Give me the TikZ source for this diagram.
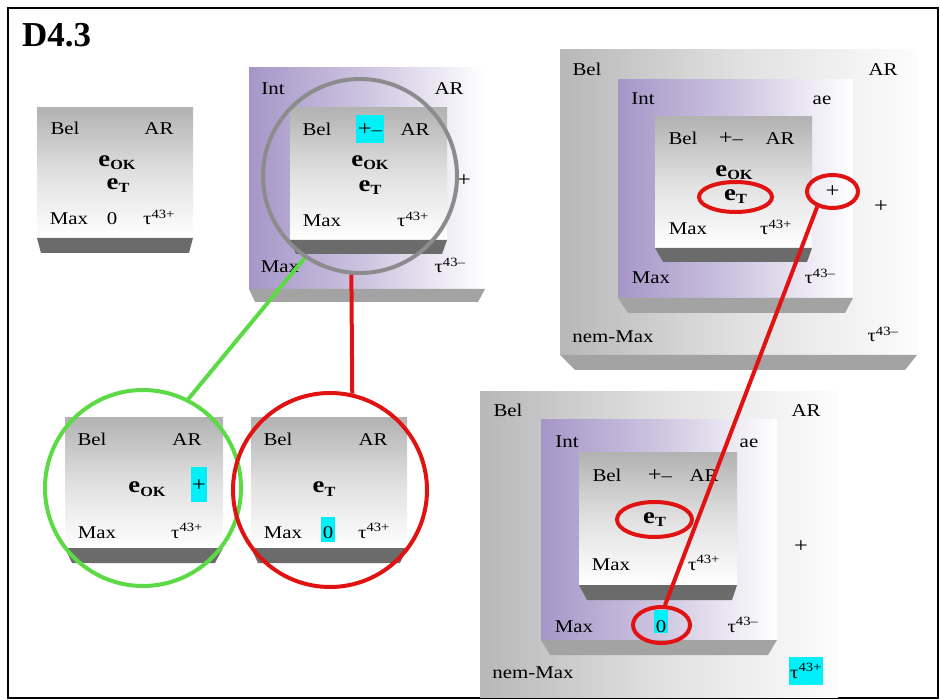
\documentclass[tikz,border=0pt]{standalone}
\usepackage{fontspec}
\setmainfont{Liberation Serif}[FakeStretch=1.16]
\newfontfamily\titlefont{Liberation Serif}
\usetikzlibrary{shapes.geometric}

\definecolor{intpurple}{RGB}{166,150,200}
\definecolor{ringred}{RGB}{225,18,18}
\definecolor{ringgreen}{RGB}{92,218,70}
\definecolor{hlcyan}{RGB}{0,240,250}

\newcommand\esub[1]{\textbf{\fontsize{23}{23}\selectfont e\raisebox{-3pt}{\fontsize{14}{14}\selectfont #1}}}
\newcommand\tauq[1]{τ\textsuperscript{43#1}}
\newcommand\bigplus{{\fontsize{21}{21}\selectfont +}}

\begin{document}
\begin{tikzpicture}[x=1pt,y=-1pt,
  lbl/.style={anchor=base,inner sep=0pt,font=\fontsize{18}{20}\selectfont},
  hlite/.style={fill=hlcyan,inner xsep=1.5pt},
  graybox/.style={top color=black!30,bottom color=white,middle color=black!12},
  intbox/.style={left color=intpurple,right color=white,middle color=intpurple!55},
  outerbox/.style={left color=black!28,right color=black!1,middle color=black!12},
  slabdark/.style={fill=black!58},
  slablight/.style={fill=black!36},
  ring/.style={draw=ringred,line width=4pt,ellipse,inner sep=0pt,font=\fontsize{18}{20}\selectfont},
  bigring/.style={circle,line width=4pt,inner sep=0pt},
  link/.style={line width=4pt}]
\useasboundingbox (0,0) rectangle (940,700);
\draw[line width=1.2pt] (8,8) rectangle (938,698);
\node[anchor=base west,inner sep=0pt,font=\titlefont\bfseries\fontsize{35}{35}\selectfont] (title) at (22,47) {D4.3};

\shade[graybox] (37,108) rectangle (193,238);
\fill[slabdark] (37,238) -- (193,238) -- (189,253) -- (41,253) -- cycle;

\shade[intbox] (249,68) rectangle (485,289);
\fill[slablight] (249,289) -- (485,289) -- (478,302) -- (255,302) -- cycle;
\shade[graybox] (290,108) rectangle (447,240);
\fill[slabdark] (290,240) -- (447,240) -- (442,254) -- (296,254) -- cycle;

\shade[graybox] (65,418) rectangle (223,548);
\fill[slabdark] (65,548) -- (223,548) -- (215,563) -- (72,563) -- cycle;
\shade[graybox] (251,418) rectangle (407,548);
\fill[slabdark] (251,548) -- (407,548) -- (400,563) -- (258,563) -- cycle;

\shade[outerbox] (560,50) rectangle (917,355);
\fill[slablight] (560,355) -- (917,355) -- (905,370) -- (575,370) -- cycle;
\shade[intbox] (618,80) rectangle (853,298);
\fill[slablight] (618,298) -- (853,298) -- (845,313) -- (628,313) -- cycle;
\shade[graybox] (655,117) rectangle (812,248);
\fill[slabdark] (655,248) -- (812,248) -- (807,262) -- (663,262) -- cycle;

\shade[outerbox] (480,392) rectangle (838,697);
\shade[intbox] (541,420) rectangle (777,640);
\fill[slablight] (541,640) -- (777,640) -- (768,655) -- (550,655) -- cycle;
\shade[graybox] (579,453) rectangle (737,585);
\fill[slabdark] (579,585) -- (737,585) -- (732,600) -- (587,600) -- cycle;

\node[lbl] (belA) at (65,135) {Bel};
\node[lbl] (arA) at (159,135) {AR};
\node[lbl] (eokA) at (117,167) {\esub{OK}};
\node[lbl] (etA) at (118,190) {\esub{T}};
\node[lbl] (maxA) at (69,225) {Max};
\node[lbl] (zeroA) at (112,225) {0};
\node[lbl] (tauA) at (159,225) {\tauq{+}};

\node[lbl] (intB) at (273,95) {Int};
\node[lbl] (arB) at (449,95) {AR};
\node[lbl] (belBi) at (317,136) {Bel};
\node[lbl,hlite,text height=21pt,text depth=7pt] (pmB) at (370,136) {\bigplus\textendash};
\node[lbl] (arBi) at (415,136) {AR};
\node[lbl] (eokB) at (370,167) {\esub{OK}};
\node[lbl] (etB) at (370,192) {\esub{T}};
\node[lbl] (maxBi) at (322,227) {Max};
\node[lbl] (tauBi) at (413,227) {\tauq{+}};
\node[lbl] (plusB) at (464,187) {\bigplus};
\node[lbl] (maxB) at (280,273) {Max};
\node[lbl] (tauB) at (450,273) {\tauq{\textendash}};

\node[lbl] (belC) at (92,446) {Bel};
\node[lbl] (arC) at (187,446) {AR};
\node[lbl] (eokC) at (147,493) {\esub{OK}};
\node[lbl,hlite,text height=24pt,text depth=11pt] (plusC) at (199,491) {\bigplus};
\node[lbl] (maxC) at (97,538) {Max};
\node[lbl] (tauC) at (187,538) {\tauq{+}};

\node[lbl] (belD) at (278,446) {Bel};
\node[lbl] (arD) at (373,446) {AR};
\node[lbl] (etD) at (324,493) {\esub{T}};
\node[lbl] (maxD) at (283,538) {Max};
\node[lbl,hlite,text height=21pt,text depth=4pt] (zeroD) at (328,538) {0};
\node[lbl] (tauD) at (374,538) {\tauq{+}};

\node[lbl] (belE) at (587,76) {Bel};
\node[lbl] (arE) at (883,76) {AR};
\node[lbl] (intE) at (643,105) {Int};
\node[lbl] (aeE) at (822,105) {ae};
\node[lbl] (belEi) at (683,145) {Bel};
\node[lbl] (pmE) at (731,145) {\bigplus\textendash};
\node[lbl] (arEi) at (780,145) {AR};
\node[lbl] (eokE) at (734,177) {\esub{OK}};
\node[ring,minimum width=73pt,minimum height=30pt] (etE) at (735.5,197) {\esub{T}};
\node[lbl] (maxEi) at (688,235) {Max};
\node[lbl] (tauEi) at (776,235) {\tauq{+}};
\node[ring,minimum width=51pt,minimum height=33pt] (plusE) at (832.5,191.5) {\bigplus};
\node[lbl] (maxEm) at (651,284) {Max};
\node[lbl] (tauEm) at (820,284) {\tauq{\textendash}};
\node[lbl] (plusEo) at (881,213) {\bigplus};
\node[lbl] (nemE) at (613,343) {nem-Max};
\node[lbl] (tauE) at (883,342) {\tauq{\textendash}};

\node[lbl] (belF) at (508,417) {Bel};
\node[lbl] (arF) at (806,417) {AR};
\node[lbl] (intF) at (567,447) {Int};
\node[lbl] (aeF) at (749,447) {ae};
\node[lbl] (belFi) at (607,482) {Bel};
\node[lbl] (pmF) at (660,482) {\bigplus\textendash};
\node[lbl] (arFi) at (704,482) {AR};
\node[ring,minimum width=75pt,minimum height=35pt] (etF) at (654.5,519.5) {\esub{T}};
\node[lbl] (maxFi) at (611,570) {Max};
\node[lbl] (tauFi) at (704,570) {\tauq{+}};
\node[lbl] (maxFm) at (574,632) {Max};
\node[lbl,hlite,text height=22pt,text depth=1pt] (zeroFt) at (661,632) {0};
\node[ring,minimum width=57pt,minimum height=36pt] (zeroF) at (661.5,625) {};
\node[lbl] (tauFm) at (743,632) {\tauq{\textendash}};
\node[lbl] (plusFo) at (801,552) {\bigplus};
\node[lbl] (nemF) at (533,678) {nem-Max};
\node[lbl,hlite,text height=21pt,text depth=7pt] (tauF) at (806,678) {\tauq{+}};

\node[bigring,draw=black!45,minimum size=194pt] (mag) at (360,176) {};
\node[bigring,draw=ringgreen,minimum size=196pt] (greenring) at (143,488) {};
\node[bigring,draw=ringred,minimum size=194pt] (redring) at (330,490) {};

\draw[link,ringgreen] (mag.236) -- (greenring.63);
\draw[link,ringred] (mag.-95) -- (redring.77);
\draw[link,ringred] (plusE.225) -- (zeroF.80);
\end{tikzpicture}
\end{document}
